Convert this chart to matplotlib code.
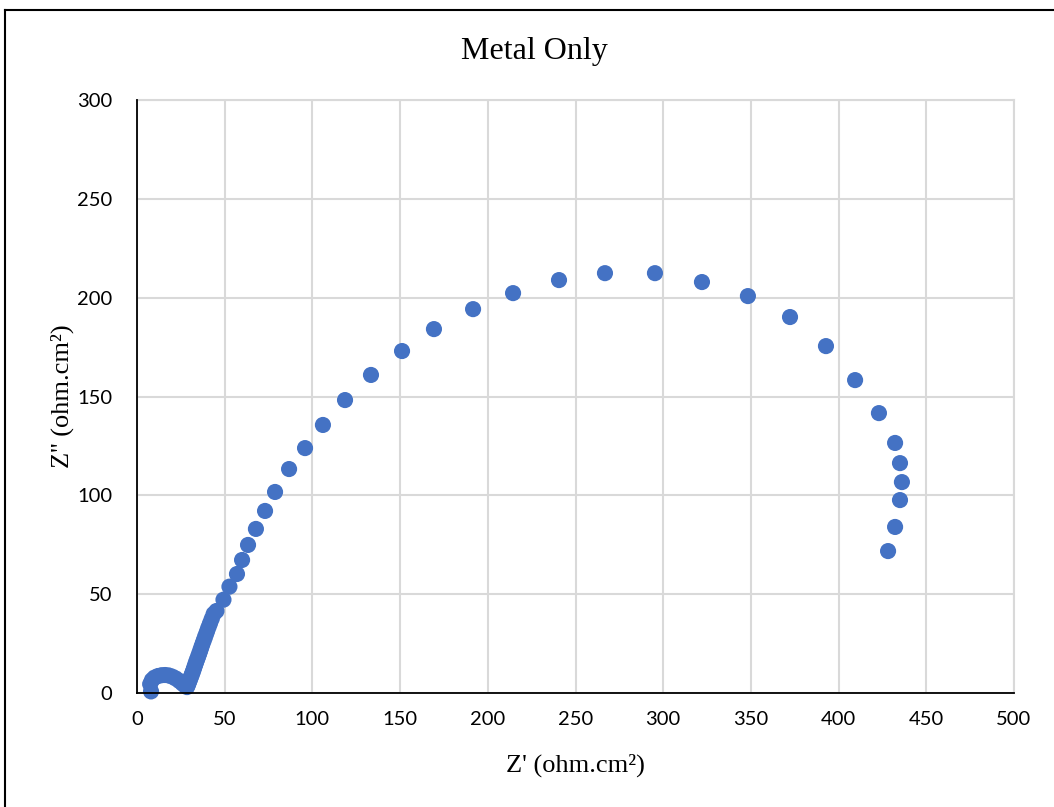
import matplotlib
matplotlib.use("Agg")
import matplotlib.pyplot as plt
from matplotlib.lines import Line2D

# Nyquist data: Z' (real) and Z'' (imaginary), ohm.cm²
z_real = [
    8.0, 7.5, 8.5, 10.0, 12.0, 14.0, 16.0, 18.0, 20.0, 22.0, 24.0, 25.8, 27.3, 28.5,
    29.0, 29.5, 30.0, 30.5, 31.0, 31.5, 32.0, 32.5, 33.0, 33.5, 34.0, 34.6, 35.2,
    35.8, 36.4, 37.0, 37.7, 38.4, 39.1, 39.9, 40.7, 41.6, 42.6, 43.7, 45.3,
    49.3, 52.7, 57.0, 59.9, 63.3, 67.8, 73.0, 78.7, 86.7, 95.8, 106.0, 118.6,
    133.4, 151.1, 169.3, 191.6, 214.4, 240.6, 266.8, 295.3, 322.1, 348.3, 372.3,
    392.8, 409.4, 423.0, 432.2, 435.0, 436.1, 435.0, 432.2, 428.2,
]
z_imag = [
    0.8, 4.5, 6.5, 7.8, 8.6, 9.0, 9.1, 8.9, 8.3, 7.4, 6.2, 4.9, 3.8, 3.0,
    4.0, 5.2, 6.4, 7.6, 8.8, 10.0, 11.2, 12.5, 13.8, 15.1, 16.4, 17.8, 19.3,
    20.8, 22.4, 24.0, 25.7, 27.4, 29.2, 31.1, 33.1, 35.2, 37.5, 40.0, 41.5,
    47.2, 53.8, 60.2, 67.3, 74.9, 83.0, 92.1, 101.7, 113.3, 123.9, 135.6, 148.2,
    160.9, 173.0, 184.1, 194.2, 202.3, 208.9, 212.4, 212.4, 207.9, 200.8, 190.2,
    175.5, 158.3, 141.6, 126.5, 116.3, 106.7, 97.6, 84.0, 71.8,
]

x_ticks = [0, 50, 100, 150, 200, 250, 300, 350, 400, 450, 500]
y_ticks = [0, 50, 100, 150, 200, 250, 300]

title_text = "Metal Only"
x_label = "Z' (ohm.cm²)"
y_label = "Z'' (ohm.cm²)"

W, H = 1054, 807
fig = plt.figure(figsize=(W / 100, H / 100), dpi=100)
fig.patch.set_facecolor("white")

ax = fig.add_axes([137 / W, 1 - 693 / H, (1014 - 137) / W, (693 - 100) / H])

ax.scatter(z_real, z_imag, s=135, color="#4472C4", edgecolors="none", zorder=3, clip_on=False)

ax.set_xlim(0, 500)
ax.set_ylim(0, 300)
ax.set_xticks(x_ticks)
ax.set_yticks(y_ticks)
ax.grid(True, color="#d9d9d9", linewidth=1.5, zorder=0)
ax.set_axisbelow(True)

for side in ("top", "right"):
    ax.spines[side].set_color("#d9d9d9")
    ax.spines[side].set_linewidth(1.5)
for side in ("left", "bottom"):
    ax.spines[side].set_color("#000000")
    ax.spines[side].set_linewidth(1.3)
    ax.spines[side].set_zorder(4)

ax.tick_params(axis="both", length=0, labelsize=14.5, colors="#000000")
ax.tick_params(axis="x", pad=13)
ax.tick_params(axis="y", pad=18)
for lab in ax.get_xticklabels() + ax.get_yticklabels():
    lab.set_fontfamily("Lato")

serif = ["Liberation Serif", "DejaVu Serif"]
fig.text(534 / W, 1 - 51 / H, title_text, ha="center", va="center",
         fontsize=23, family=serif)
fig.text(575 / W, 1 - 765 / H, x_label, ha="center", va="center",
         fontsize=19, family=serif)
fig.text(62 / W, 1 - 396 / H, y_label, ha="center", va="center",
         fontsize=19, family=serif, rotation=90)

# Chart-area border (left and top edges)
fig.add_artist(Line2D([5 / W, 5 / W], [0, 1 - 10 / H], transform=fig.transFigure,
                      color="black", linewidth=1.5))
fig.add_artist(Line2D([5 / W, 1], [1 - 10 / H, 1 - 10 / H], transform=fig.transFigure,
                      color="black", linewidth=1.5))

fig.savefig("out.png", dpi=100)
